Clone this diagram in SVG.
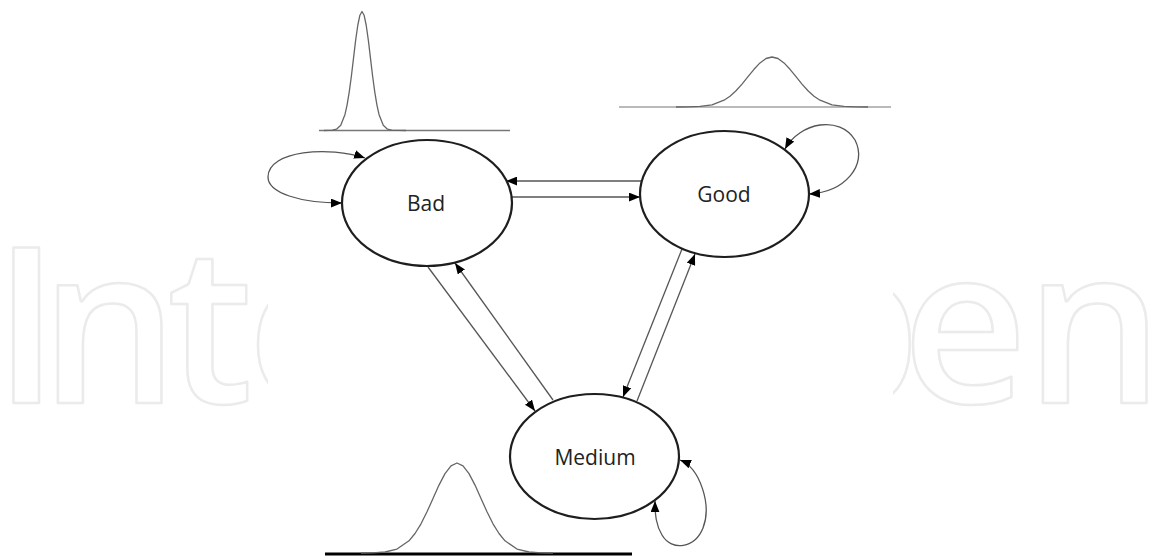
<svg xmlns="http://www.w3.org/2000/svg" width="1149" height="558" viewBox="0 0 1149 558">
<style>
.wm{font-family:"Open Sans","Noto Sans",sans-serif;font-weight:600;font-size:218px;fill:none;stroke:#ebebeb;stroke-width:2.5;stroke-linejoin:round}
.node{fill:#fff;stroke:#1e1e1e;stroke-width:2.2}
.lbl{font-family:"Open Sans","Noto Sans",sans-serif;font-size:21px;fill:#222;text-anchor:middle}
.edge{fill:none;stroke:#555;stroke-width:1.3}
.curve{fill:none;stroke:#666;stroke-width:1.3;stroke-linejoin:round}
.base{stroke:#777;stroke-width:1.5}
</style>
<defs>
<marker id="ah" viewBox="0 0 10 8" refX="10" refY="4" markerWidth="11" markerHeight="9" markerUnits="userSpaceOnUse" orient="auto-start-reverse">
<path d="M0,0 L10,4 L0,8 z" fill="#000"/>
</marker>
<clipPath id="clipL"><rect x="0" y="0" width="268" height="558"/></clipPath>
<clipPath id="clipR"><rect x="893" y="0" width="256" height="558"/></clipPath>
</defs>
<rect width="1149" height="558" fill="#fff"/>
<g id="watermark">
<text class="wm" x="-7 40 167 247" y="403" clip-path="url(#clipL)">Inte</text>
<text class="wm" x="785 902 1025" y="403" clip-path="url(#clipR)">pen</text>
</g>
<g id="dist-bad">
<line class="base" x1="319" y1="130.5" x2="510" y2="130.5"/>
<polyline class="curve" points="324,130.5 332.25,130.2 336.5,129.2 340.75,125.3 345,114.4 347.1,104.8 349.25,91.9 351.4,76 353.5,58.3 355.6,40.7 357.75,25.5 359.9,15.2 362,11.5 364.1,15.2 366.25,25.5 368.4,40.7 370.5,58.3 372.6,76 374.75,91.9 376.9,104.8 379,114.4 383.25,125.3 387.5,129.2 391.75,130.2 406,130.5"/>
</g>
<g id="dist-good">
<line class="base" x1="619" y1="107" x2="891" y2="107" style="stroke-width:1.2"/>
<polyline class="curve" points="676,107 688,106.9 700,106.4 712,104.8 724,100.2 730,96.2 736,90.8 742,84.1 748,76.7 754,69.3 760,62.9 766,58.5 772,57 778,58.5 784,62.9 790,69.3 796,76.7 802,84.1 808,90.8 814,96.2 820,100.2 832,104.8 844,106.4 856,106.9 868,107"/>
</g>
<g id="dist-medium">
<line x1="325" y1="554" x2="632" y2="554" stroke="#000" stroke-width="3"/>
<polyline class="curve" points="361,553 373,552.8 385,552 397,549.05 409,540.8 415,533.5 421,523.8 427,511.8 433,498.4 439,485.1 445,473.6 451,465.8 457,463 463,465.8 469,473.6 475,485.1 481,498.4 487,511.8 493,523.8 499,533.5 505,540.8 517,549.05 529,552 541,552.8 553,553"/>
</g>
<g id="connectors">
<line class="edge" x1="641" y1="181" x2="506" y2="181" marker-end="url(#ah)"/>
<line class="edge" x1="512" y1="197" x2="640" y2="197" marker-end="url(#ah)"/>
<line class="edge" x1="428" y1="267" x2="535" y2="411" marker-end="url(#ah)"/>
<line class="edge" x1="553" y1="400" x2="455" y2="263" marker-end="url(#ah)"/>
<line class="edge" x1="682" y1="249" x2="623" y2="397" marker-end="url(#ah)"/>
<line class="edge" x1="637" y1="401" x2="695" y2="254" marker-end="url(#ah)"/>
<path class="edge" d="M342,203 C300,203 268,193 268,177 C268,150 330,146 365,158" marker-start="url(#ah)" marker-end="url(#ah)"/>
<path class="edge" d="M785,149 C800,122 840,115 855,140 C868,165 845,192 809,194" marker-start="url(#ah)" marker-end="url(#ah)"/>
<path class="edge" d="M680,460 C700,468 712,505 703,528 C695,548 672,552 662,535 C656,525 655,515 655,501" marker-start="url(#ah)" marker-end="url(#ah)"/>
</g>
<g id="node-bad">
<ellipse class="node" cx="427" cy="203" rx="85" ry="63"/>
<text class="lbl" x="426" y="211">Bad</text>
</g>
<g id="node-good">
<ellipse class="node" cx="724.5" cy="194" rx="84.5" ry="63"/>
<text class="lbl" x="724" y="202">Good</text>
</g>
<g id="node-medium">
<ellipse class="node" cx="594.5" cy="456.5" rx="84.5" ry="62.5"/>
<text class="lbl" x="595" y="465">Medium</text>
</g>
</svg>
